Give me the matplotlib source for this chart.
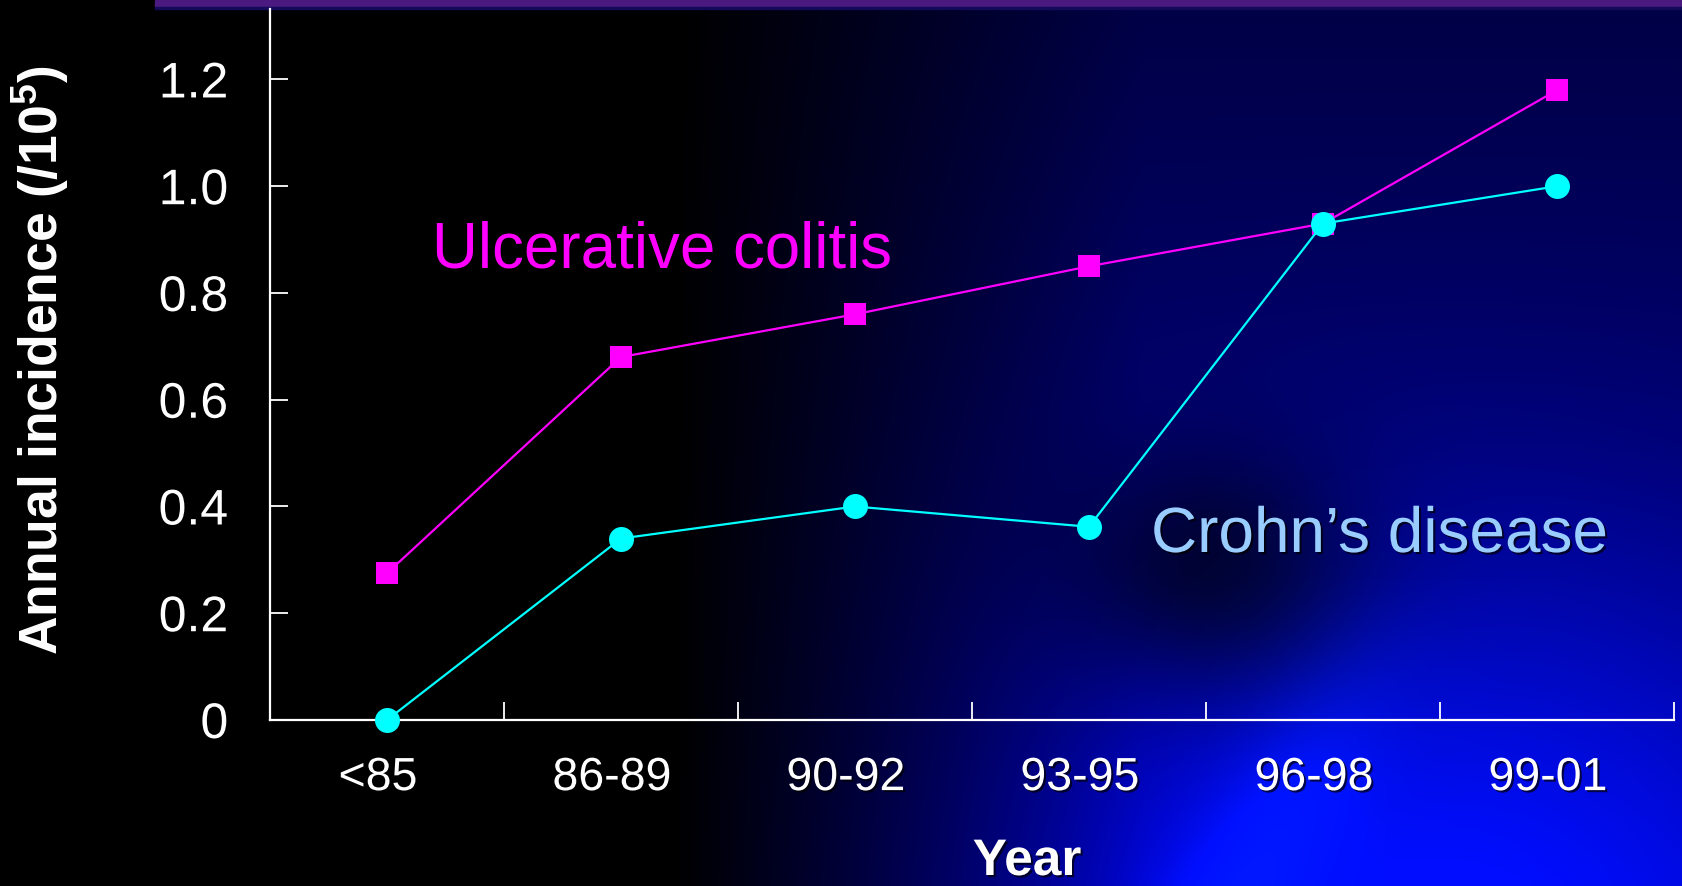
import numpy as np
import matplotlib
matplotlib.use("Agg")
import matplotlib.pyplot as plt
import matplotlib.patheffects as pe
from matplotlib.transforms import ScaledTranslation
from matplotlib.patches import Rectangle

plt.rcParams['font.family'] = ['Liberation Sans', 'DejaVu Sans']
plt.rcParams['mathtext.fontset'] = 'custom'
plt.rcParams['mathtext.rm'] = 'Liberation Sans:bold'
plt.rcParams['mathtext.bf'] = 'Liberation Sans:bold'

# ---- data ----
periods = ["<85", "86-89", "90-92", "93-95", "96-98", "99-01"]
uc_values = [0.275, 0.68, 0.76, 0.85, 0.93, 1.18]
cd_values = [0.0, 0.34, 0.40, 0.362, 0.93, 1.00]
y_ticks = [0, 0.2, 0.4, 0.6, 0.8, 1.0, 1.2]
y_tick_labels = ["0", "0.2", "0.4", "0.6", "0.8", "1.0", "1.2"]

W, H = 1683, 886
fig = plt.figure(figsize=(W / 100, H / 100), dpi=100)

# ---- background ----
bg = fig.add_axes([0, 0, 1, 1], zorder=-10)
bg.axis('off')
u = np.linspace(0, 1, 420)[None, :]
v = np.linspace(0, 1, 220)[:, None]
navy = np.clip((u - 0.40) / 0.28, 0, 1)
bright = np.exp(-(((u - 0.86) ** 2) / 0.07 + ((v - 1.05) ** 2) / 0.18))
streak = np.exp(-(((u - 0.74) - 0.25 * (1 - v)) ** 2) / 0.002) * np.clip((v - 0.65) / 0.35, 0, 1)
blob = np.exp(-(((u - 0.72) ** 2) / 0.008 + ((v - 0.64) ** 2) / 0.02))
blue = navy * (70 + 70 * v) + 120 * bright * np.clip((u - 0.4) / 0.3, 0, 1) + 60 * streak
blue = blue * (1 - 0.65 * blob)
green = 14 * bright * np.clip((u - 0.5) / 0.3, 0, 1) + 15 * streak
red = np.zeros_like(blue)
img = np.dstack([red + 0 * v, green + 0 * v, blue]) / 255.0
img = np.clip(img, 0, 1)
bg.imshow(img, aspect='auto', extent=[0, 1, 0, 1], interpolation='bilinear')
bg.set_xlim(0, 1)
bg.set_ylim(0, 1)

# top purple strip
fig.patches.append(Rectangle((155 / W, 1 - 7 / H), 1 - 155 / W, 7 / H,
                             transform=fig.transFigure, color='#4b1a80', zorder=-5))
fig.patches.append(Rectangle((155 / W, 1 - 9 / H), 1 - 155 / W, 2 / H,
                             transform=fig.transFigure, color='#140a5a', zorder=-5))

# ---- main axes ----
ax = fig.add_axes([270 / W, 1 - 720 / H, (1674 - 270) / W, (720 - 9) / H])
ax.patch.set_alpha(0)
x = np.arange(len(periods))
ax.plot(x, uc_values, color='#ff00ff', lw=1.6, marker='s', markersize=16,
        markeredgewidth=0, zorder=3, clip_on=False)
ax.plot(x, cd_values, color='#00ffff', lw=1.6, marker='o', markersize=18,
        markeredgewidth=0, zorder=4, clip_on=False)

ax.set_xlim(-0.5, 5.5)
ax.set_ylim(0, 1.332)
for s in ['top', 'right']:
    ax.spines[s].set_visible(False)
for s in ['left', 'bottom']:
    ax.spines[s].set_color('white')
    ax.spines[s].set_linewidth(1.6)

ax.set_yticks(y_ticks)
ax.set_yticklabels(y_tick_labels)
ax.tick_params(axis='y', direction='in', length=13, width=1.3, colors='white',
               labelsize=36, pad=30)
ax.set_xticks(x)
ax.set_xticklabels(periods)
ax.set_xticks(np.arange(len(periods)) + 0.5, minor=True)
ax.tick_params(axis='x', which='major', length=0, colors='white', labelsize=33.5, pad=26)
ax.tick_params(axis='x', which='minor', direction='in', length=13, width=1.3, colors='white')

shadow = [pe.SimplePatchShadow(offset=(1.5, -1.5), shadow_rgbFace='black', alpha=0.7), pe.Normal()]
off = ScaledTranslation(-9 / 100, 0, fig.dpi_scale_trans)
for lab in ax.get_xticklabels():
    lab.set_transform(lab.get_transform() + off)
    lab.set_path_effects(shadow)
for lab in ax.get_yticklabels():
    lab.set_path_effects(shadow)

# ---- texts ----
fig.text(40 / W, 1 - 360 / H, r"Annual incidence (/10$^{\mathbf{5}}$)", rotation=90,
         ha='center', va='center', fontsize=38.5, fontweight='bold', color='white')
fig.text(1027 / W, 1 - 875 / H, "Year", ha='center', va='baseline',
         fontsize=37, fontweight='bold', color='white', path_effects=shadow)
fig.text(432 / W, 1 - 268 / H, "Ulcerative colitis", ha='left', va='baseline',
         fontsize=45.8, color='#ff00ff')
fig.text(1151 / W, 1 - 552 / H, "Crohn\u2019s disease", ha='left', va='baseline',
         fontsize=46, color='#99ccff', path_effects=shadow)

fig.savefig("out.png", dpi=100, facecolor='black')
